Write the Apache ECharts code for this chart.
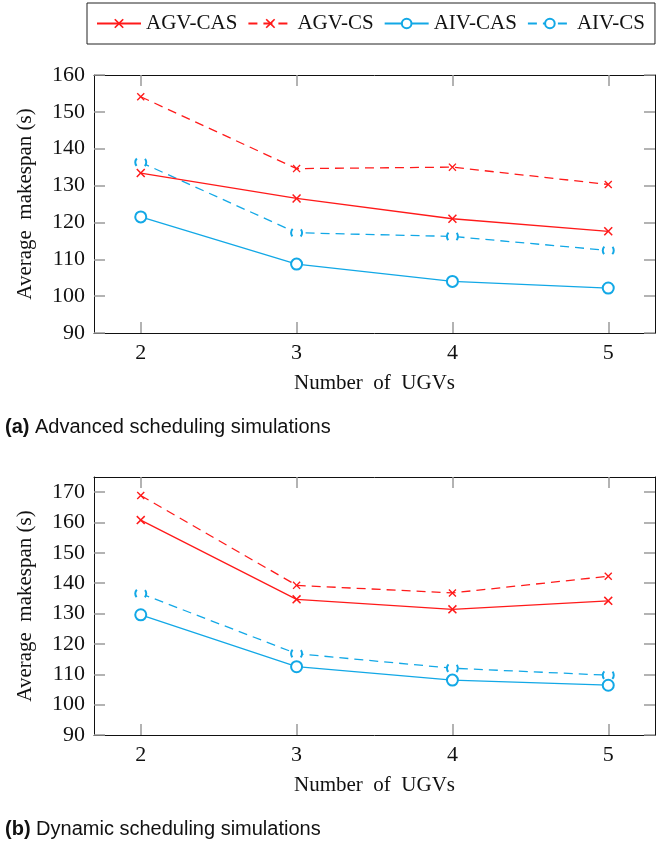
<!DOCTYPE html>
<html>
<head>
<meta charset="utf-8">
<title>Average makespan vs number of UGVs</title>
<script src="https://cdn.jsdelivr.net/npm/echarts@6/dist/echarts.min.js"></script>
<style>
  html, body { margin: 0; padding: 0; background: #fff; }
  #chart { width: 656px; height: 845px; }
</style>
</head>
<body>
<div id="chart"></div>
<script>
// Number of UGVs on the x axis
const ugvCounts = [2, 3, 4, 5];

// (a) Advanced scheduling simulations, average makespan (s)
const advAgvCas = [133.4, 126.5, 121.0, 117.6];
const advAgvCs  = [154.1, 134.6, 135.0, 130.3];
const advAivCas = [121.5, 108.7, 104.0, 102.2];
const advAivCs  = [136.3, 117.2, 116.2, 112.4];

// (b) Dynamic scheduling simulations, average makespan (s)
const dynAgvCas = [160.8, 134.7, 131.4, 134.2];
const dynAgvCs  = [168.9, 139.3, 136.8, 142.3];
const dynAivCas = [129.6, 112.5, 108.1, 106.4];
const dynAivCs  = [136.6, 116.8, 112.0, 109.7];

// Tick values
const xTicks = [2, 3, 4, 5];
const yTicksA = [90, 100, 110, 120, 130, 140, 150, 160];
const yTicksB = [90, 100, 110, 120, 130, 140, 150, 160, 170];

const seriesNames = ['AGV-CAS', 'AGV-CS', 'AIV-CAS', 'AIV-CS'];

const RED = '#ff1a1a';
const BLUE = '#12a8e6';
const SERIF = 'Liberation Serif';
const SANS = 'Liberation Sans';
const CROSS = 'path://M0,1.2L1.2,0L5,3.8L8.8,0L10,1.2L6.2,5L10,8.8L8.8,10L5,6.2L1.2,10L0,8.8L3.8,5Z';

const pairs = arr => ugvCounts.map((x, i) => [x, arr[i]]);

function seriesFor(gridIdx, values) {
  const styles = [
    { color: RED, type: 'solid', symbol: CROSS, size: 9 },
    { color: RED, type: [9, 6], symbol: CROSS, size: 8 },
    { color: BLUE, type: 'solid', symbol: 'emptyCircle', size: 11 },
    { color: BLUE, type: [9, 6], symbol: 'emptyCircle', size: 11 }
  ];
  return values.map((v, k) => {
    const s = styles[k];
    const item = { color: s.color };
    if (s.symbol === 'emptyCircle') {
      item.borderWidth = 1.2;
      if (k === 3) { item.borderType = [8, 9]; item.borderDashOffset = 4; }
    }
    return {
      name: seriesNames[k],
      type: 'line',
      xAxisIndex: gridIdx * 2,
      yAxisIndex: gridIdx * 2,
      data: pairs(v),
      symbol: s.symbol,
      symbolSize: s.size,
      showAllSymbol: true,
      clip: false,
      z: 10 - k,
      lineStyle: { color: s.color, width: 1.3, type: s.type },
      itemStyle: item,
      emphasis: { disabled: true },
      animation: false
    };
  });
}

const tickStyle = { color: '#9a9a9a', width: 1.5 };
const frameLine = { show: true, onZero: false, lineStyle: { color: '#111', width: 1 } };
const labelText = { fontFamily: SERIF, fontSize: 21, color: '#111' };
const tickText = { fontFamily: SERIF, fontSize: 22, color: '#111' };

function xAxes(gridIdx) {
  const common = {
    type: 'value', gridIndex: gridIdx, min: 1.7, max: 5.3,
    splitLine: { show: false }, axisLine: frameLine
  };
  return [
    Object.assign({}, common, {
      position: 'bottom',
      name: 'Number  of  UGVs',
      nameLocation: 'middle',
      nameGap: 40,
      nameTextStyle: labelText,
      axisTick: { show: true, inside: true, length: 11, lineStyle: tickStyle, customValues: xTicks },
      axisLabel: Object.assign({ show: true, margin: 9, customValues: xTicks }, tickText)
    }),
    Object.assign({}, common, {
      position: 'top',
      axisTick: { show: true, inside: true, length: 11, lineStyle: tickStyle, customValues: xTicks },
      axisLabel: { show: false }
    })
  ];
}

function yAxes(gridIdx, max, ticks) {
  const common = {
    type: 'value', gridIndex: gridIdx, min: 90, max: max,
    splitLine: { show: false }, axisLine: frameLine
  };
  return [
    Object.assign({}, common, {
      position: 'left',
      name: 'Average  makespan (s)',
      nameLocation: 'middle',
      nameRotate: 90,
      nameGap: 58,
      nameTextStyle: labelText,
      axisTick: { show: true, inside: true, length: 11, lineStyle: tickStyle, customValues: ticks },
      axisLabel: Object.assign({ show: true, margin: 9, customValues: ticks }, tickText)
    }),
    Object.assign({}, common, {
      position: 'right',
      axisTick: { show: true, inside: true, length: 11, lineStyle: tickStyle, customValues: ticks },
      axisLabel: { show: false }
    })
  ];
}

const chart = echarts.init(document.getElementById('chart'), null, { renderer: 'canvas' });

chart.setOption({
  backgroundColor: '#fff',
  animation: false,
  legend: {
    data: seriesNames,
    left: 87,
    top: 3,
    padding: [10, 10, 10, 9],
    itemGap: 10,
    itemWidth: 44,
    itemHeight: 12,
    borderColor: '#222',
    borderWidth: 1,
    textStyle: labelText,
    selectedMode: false
  },
  grid: [
    { left: 94, right: 1, top: 75, height: 258 },
    { left: 94, right: 1, top: 477, height: 258 }
  ],
  xAxis: [...xAxes(0), ...xAxes(1)],
  yAxis: [...yAxes(0, 160, yTicksA), ...yAxes(1, 175, yTicksB)],
  series: [
    ...seriesFor(0, [advAgvCas, advAgvCs, advAivCas, advAivCs]),
    ...seriesFor(1, [dynAgvCas, dynAgvCs, dynAivCas, dynAivCs])
  ],
  graphic: [
    {
      type: 'text', left: 5, top: 417,
      style: {
        text: '{b|(a)} Advanced scheduling simulations',
        fontFamily: SANS, fontSize: 20, fill: '#111',
        rich: { b: { fontWeight: 'bold', fontFamily: SANS, fontSize: 20, fill: '#111' } }
      }
    },
    {
      type: 'text', left: 5, top: 819,
      style: {
        text: '{b|(b)} Dynamic scheduling simulations',
        fontFamily: SANS, fontSize: 20, fill: '#111',
        rich: { b: { fontWeight: 'bold', fontFamily: SANS, fontSize: 20, fill: '#111' } }
      }
    }
  ]
});
</script>
</body>
</html>
